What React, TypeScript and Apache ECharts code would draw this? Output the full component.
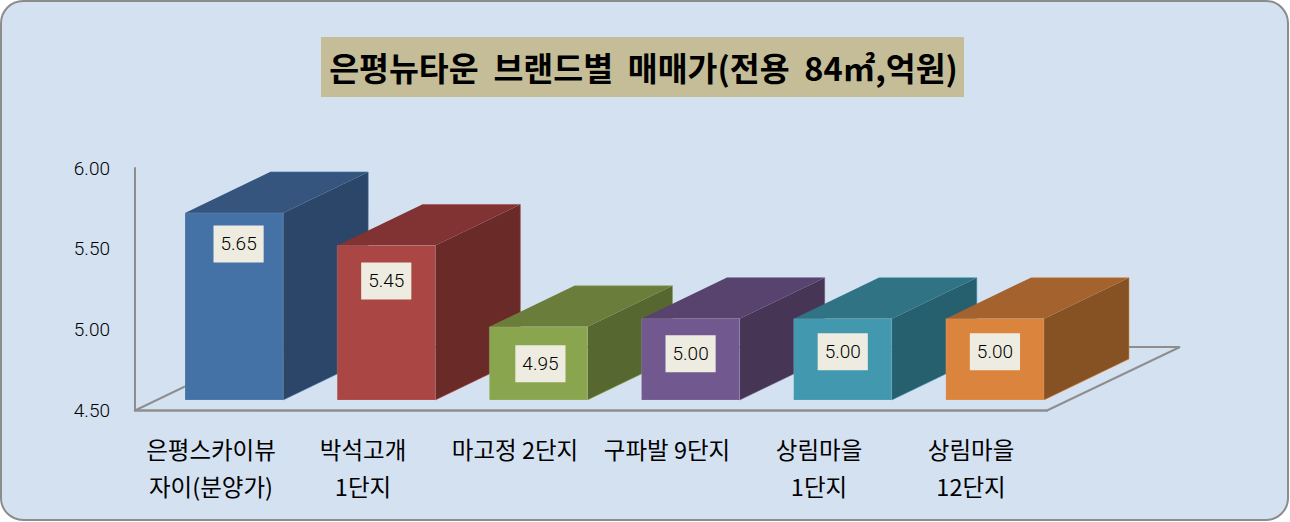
import React, { useEffect, useRef } from "react";
import * as echarts from "echarts";

const categories = ["은평스카이뷰\n자이(분양가)", "박석고개\n1단지", "마고정 2단지", "구파발 9단지", "상림마을\n1단지", "상림마을\n12단지"];
const prices = [5.65, 5.45, 4.95, 5.0, 5.0, 5.0];
const yTicks = { min: 4.5, max: 6, interval: 0.5 };
const titleText = "은평뉴타운  브랜드별  매매가(전용  84㎡,억원)";

const FRONT = ["#4471A6", "#AA4643", "#89A54E", "#71588F", "#4198AF", "#DB843D"];
const TOP = ["#35557F", "#803332", "#6B7D3A", "#58436F", "#2F7385", "#A4632E"];
const SIDE = ["#2B4669", "#692A28", "#566830", "#463555", "#265F6E", "#875223"];
const LABEL_DX = [4.5, 0, 2, 0, 0, 0];
const LABEL_DY = [31, 35.5, 37, 35, 33, 33];

const FONT = '"Noto Sans CJK KR", sans-serif';
const NUM_FONT = 'Roboto, "Noto Sans", sans-serif';
const AXIS = "#8E8E8E";
const DEPTH_X = 85;
const DEPTH_Y = 41;

export default function App() {
  const ref = useRef<HTMLDivElement>(null);
  useEffect(() => {
    document.body.style.margin = "0";
    const chart = echarts.init(ref.current!, null, { renderer: "svg" });
    chart.setOption({
      animation: false,
      graphic: [
        { type: "rect", z: -10, shape: { x: 1, y: 1, width: 1287, height: 519, r: 22 }, style: { fill: "#D4E1F1", stroke: "#8C8C8C", lineWidth: 2 } },
        { type: "rect", z: -9, shape: { x: 321, y: 37, width: 643, height: 60 }, style: { fill: "#C4BD97" } },
        { type: "text", z: -8, x: 643.5, y: 66, style: { text: titleText, fill: "#000", font: `bold 32.5px ${FONT}`, align: "center", verticalAlign: "middle" } },
        { type: "polyline", z: -7, shape: { points: [[135, 410.5], [267, 347], [1180, 347], [1047, 410.5]] }, style: { fill: "none", stroke: AXIS, lineWidth: 2 } },
      ],
      grid: [
        { left: 135, top: 168, width: 912, height: 242.5 },
        { left: 158, top: 156, width: 913, height: 244 },
      ],
      xAxis: [
        {
          type: "category", gridIndex: 0, data: categories,
          axisLine: { lineStyle: { color: AXIS, width: 2.5 } }, axisTick: { show: false },
          axisLabel: { interval: 0, color: "#000", fontFamily: FONT, fontSize: 23.5, lineHeight: 37, margin: 20, verticalAlign: "top" },
        },
        { type: "category", gridIndex: 1, data: categories, show: false },
      ],
      yAxis: [
        {
          type: "value", gridIndex: 0, ...yTicks,
          splitLine: { show: false }, axisTick: { show: false },
          axisLine: { show: true, lineStyle: { color: AXIS, width: 2 } },
          axisLabel: { color: "#000", fontFamily: NUM_FONT, fontWeight: 300, fontSize: 19, margin: 25, padding: [0, 0, 1, 0], formatter: (v: number) => v.toFixed(2) },
        },
        { type: "value", gridIndex: 1, ...yTicks, show: false },
      ],
      series: [
        {
          type: "custom", xAxisIndex: 1, yAxisIndex: 1, clip: false,
          data: prices.map((v, i) => [i, v]),
          renderItem: (params: any, api: any) => {
            const i = params.dataIndex;
            const val = api.value(1);
            const [cx, yTop] = api.coord([api.value(0), val]);
            const [, yBase] = api.coord([api.value(0), yTicks.min]);
            const w = api.size([1, 0])[0] * 0.645;
            const l = cx - w / 2;
            const r = cx + w / 2;
            return {
              type: "group",
              children: [
                { type: "polygon", shape: { points: [[r, yTop], [r + DEPTH_X, yTop - DEPTH_Y], [r + DEPTH_X, yBase - DEPTH_Y], [r, yBase]] }, style: { fill: SIDE[i] } },
                { type: "polygon", shape: { points: [[l, yTop], [l + DEPTH_X, yTop - DEPTH_Y], [r + DEPTH_X, yTop - DEPTH_Y], [r, yTop]] }, style: { fill: TOP[i] } },
                { type: "polyline", shape: { points: [[l + DEPTH_X, yTop - DEPTH_Y], [r + DEPTH_X, yTop - DEPTH_Y], [r + DEPTH_X, yBase - DEPTH_Y], [r, yBase]] }, style: { fill: "none", stroke: FRONT[i], lineWidth: 1, opacity: 0.55 } },
                { type: "rect", shape: { x: l, y: yTop, width: w, height: yBase - yTop }, style: { fill: FRONT[i], stroke: "rgba(255,255,255,0.12)", lineWidth: 1 } },
                {
                  type: "text", x: cx + LABEL_DX[i], y: yTop + LABEL_DY[i],
                  style: { text: val.toFixed(2), fill: "#000", font: `300 19px ${NUM_FONT}`, align: "center", verticalAlign: "middle", backgroundColor: "#EEECE1", padding: [9, 7, 9, 7] },
                },
              ],
            };
          },
        },
      ],
    });
    return () => chart.dispose();
  }, []);
  return <div ref={ref} style={{ width: 1290, height: 522 }} />;
}
